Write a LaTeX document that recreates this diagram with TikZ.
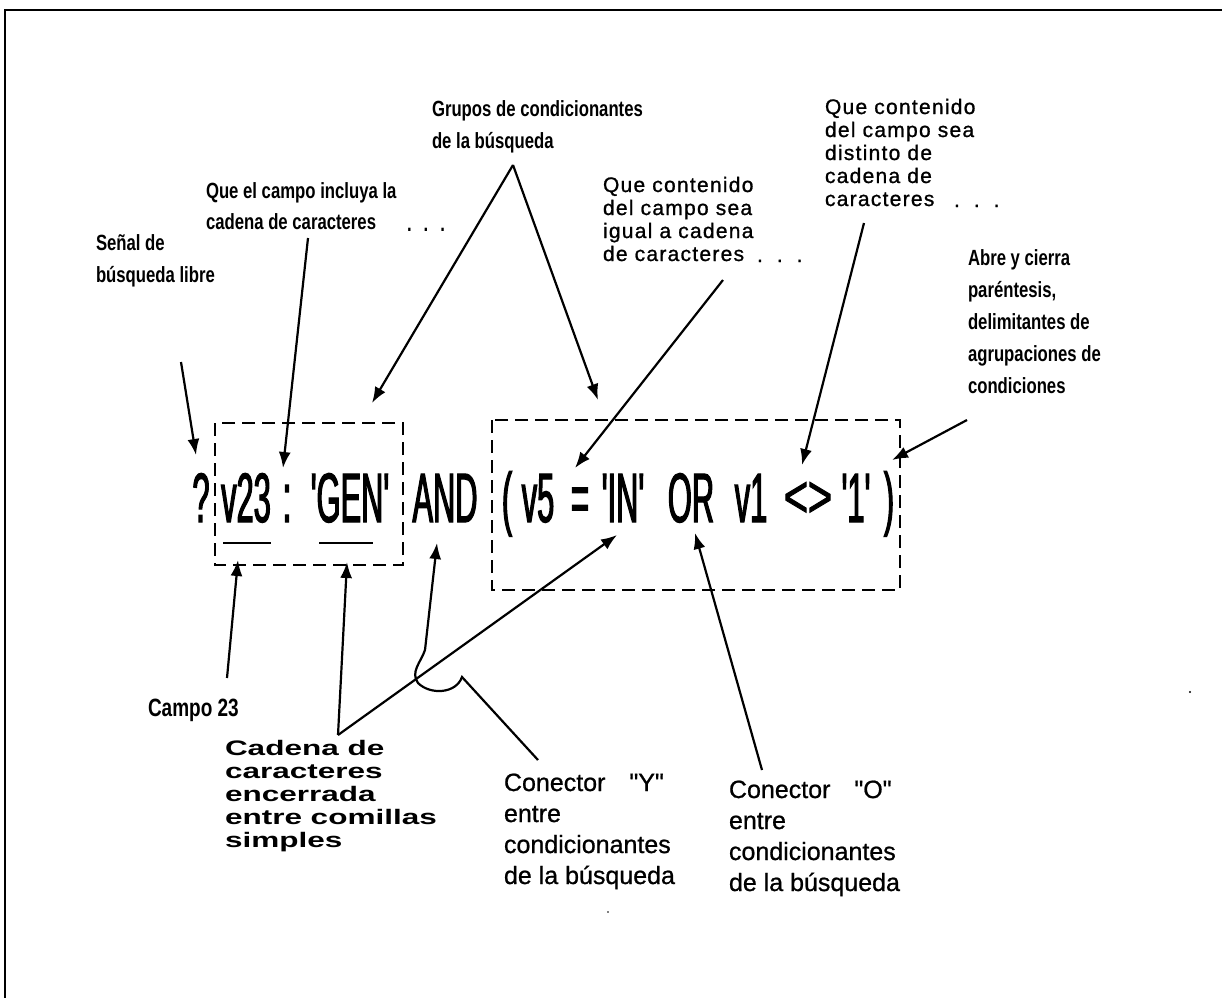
\documentclass[tikz,border=0pt]{standalone}
\usepackage{fontspec}
\setmainfont{Liberation Sans}[Ligatures=TeXOff,FakeBold=0.8]
\newfontfamily\formfont[FakeStretch=0.44,Ligatures=TeXOff,FakeBold=1.6]{Liberation Sans}
\newfontfamily\chevfont[FakeStretch=0.7,FakeBold=1.4]{Liberation Sans}
\newfontfamily\condfont[FakeStretch=0.76]{Liberation Sans}
\newfontfamily\widefont[LetterSpace=6,FakeBold=1]{Liberation Sans}
\newfontfamily\extfont[FakeStretch=1.5]{Liberation Sans}
\usetikzlibrary{arrows.meta}
\begin{document}
\begin{tikzpicture}[x=0.5pt,y=-0.5pt,
  lbl/.style={inner sep=0pt,outer sep=0pt,align=left,anchor=north west},
  cond/.style={lbl,font=\condfont\bfseries\fontsize{11pt}{16pt}\selectfont},
  wide/.style={lbl,font=\widefont\fontsize{10.5pt}{11.5pt}\selectfont},
  ext/.style={lbl,font=\extfont\bfseries\fontsize{10.5pt}{11.5pt}\selectfont},
  reg/.style={lbl,font=\fontsize{12.5pt}{15.5pt}\selectfont},
  tok/.style={inner sep=0pt,anchor=base,font=\formfont\fontsize{35pt}{40pt}\selectfont},
  chev/.style={inner sep=0pt,anchor=base,font=\chevfont\fontsize{30pt}{34pt}\selectfont},
  arr/.style={line width=1.1pt,-{Latex[length=8pt,width=6pt]}},
  ln/.style={line width=1.1pt},
  grp/.style={line width=1.1pt,dash pattern=on 6.5pt off 3.5pt},
]
\useasboundingbox (0,0) rectangle (1222,998);
% frame
\coordinate (fr0) at (5,10);
\coordinate (fr1) at (1222,10);
\coordinate (fr2) at (5,998);
\draw[line width=1.3pt] (fr1) -- (fr0) -- (fr2);

% formula
\node[tok] (q) at (201,522) {?};
\node[tok] (v23) at (246,522) {v23};
\node[tok] (colon) at (287,522) {:};
\node[tok] (gen) at (350,522) {'GEN'};
\node[tok] (and) at (445,522) {AND};
\node[tok] (lp) at (507,522) {(};
\node[tok] (v5) at (538,522) {v5};
\node[tok] (eq) at (580,522) {=};
\node[tok] (in) at (623,522) {'IN'};
\node[tok] (or) at (691,522) {OR};
\node[tok] (v1) at (751,522) {v1};
\node[chev] (lt) at (796,517) {<};
\node[chev] (gt) at (820,517) {>};
\node[tok] (one) at (856,522) {'1'};
\node[tok] (rp) at (889,522) {)};

% dashed groups
\coordinate (b1a) at (215,423);
\coordinate (b1b) at (403,565);
\draw[grp] (b1a) rectangle (b1b);
\coordinate (b2a) at (492,420);
\coordinate (b2b) at (900,590);
\draw[grp] (b2a) rectangle (b2b);

% underlines
\coordinate (u1a) at (223,543);
\coordinate (u1b) at (271,543);
\coordinate (u2a) at (319,543);
\coordinate (u2b) at (373,543);
\draw[line width=0.9pt] (u1a) -- (u1b);
\draw[line width=0.9pt] (u2a) -- (u2b);

% labels top
\node[cond] (grupos) at (432,94) {\rule{0pt}{11pt}Grupos de condicionantes\\de la búsqueda};
\node[cond,font=\condfont\bfseries\fontsize{11pt}{15.5pt}\selectfont] (incl) at (206,176) {\rule{0pt}{11pt}Que el campo incluya la\\cadena de caracteres};
\node[cond,anchor=base west] (incld) at (407,231) {.\hspace{6pt}.\hspace{6pt}.};
\node[cond] (senal) at (96,228) {\rule{0pt}{11pt}Señal de\\búsqueda libre};
\node[cond] (abre) at (968,243) {\rule{0pt}{11pt}Abre y cierra\\paréntesis,\\delimitantes de\\agrupaciones de\\condiciones};
\node[wide] (igual) at (603,171) {\rule{0pt}{10.5pt}Que contenido\\del campo sea\\igual a cadena\\de caracteres};
\node[wide,anchor=base west] (iguald) at (757,262) {.\hspace{7pt}.\hspace{7pt}.};
\node[wide] (dist) at (825,93) {\rule{0pt}{10.5pt}Que contenido\\del campo sea\\distinto de\\cadena de\\caracteres};
\node[wide,anchor=base west] (distd) at (954,207) {.\hspace{7pt}.\hspace{7pt}.};

% labels bottom
\node[cond,anchor=base west,font=\condfont\bfseries\fontsize{12.5pt}{14pt}\selectfont] (campo) at (148,716) {Campo 23};
\node[ext] (cadena) at (225,734) {\rule{0pt}{10.5pt}Cadena de\\caracteres\\encerrada\\entre comillas\\simples};
\node[reg] (cy) at (504,766) {\rule{0pt}{12.5pt}Conector\hspace{12pt}"Y"\\entre\\condicionantes\\de la búsqueda};
\node[reg] (co) at (729,773) {\rule{0pt}{12.5pt}Conector\hspace{12pt}"O"\\entre\\condicionantes\\de la búsqueda};

% connectors
\coordinate (senS) at (181,362);
\coordinate (senT) at (196,455);
\draw[arr] (senS) -- (senT);
\coordinate (inS) at (308,238);
\coordinate (inT) at (283,468);
\draw[arr] (inS) -- (inT);
\coordinate (grA) at (513,165);
\coordinate (grL) at (372,403);
\coordinate (grR) at (598,400);
\draw[arr] (grA) -- (grL);
\draw[arr] (grA) -- (grR);
\coordinate (igS) at (723,280);
\coordinate (igT) at (575,468);
\draw[arr] (igS) -- (igT);
\coordinate (diS) at (864,223);
\coordinate (diT) at (802,465);
\draw[arr] (diS) -- (diT);
\coordinate (abS) at (967,420);
\coordinate (abT) at (892,460);
\draw[arr] (abS) -- (abT);
\coordinate (caS) at (227,678);
\coordinate (caT) at (238,560);
\draw[arr] (caS) -- (caT);
\coordinate (cdV) at (338,735);
\coordinate (cdT1) at (347,562);
\coordinate (cdT2) at (617,535);
\draw[arr] (cdV) -- (cdT1);
\draw[arr] (cdV) -- (cdT2);
\coordinate (orS) at (762,770);
\coordinate (orT) at (695,533);
\draw[arr] (orS) -- (orT);
\coordinate (anS) at (538,760);
\coordinate (anH) at (462,677);
\coordinate (anC) at (425,650);
\coordinate (anT) at (437,543);
\draw[arr] (anS) -- (anH) .. controls (456,694) and (430,695) .. (418,683)
  .. controls (410,672) and (421,662) .. (anC) -- (anT);

% specks
\fill (1190,692) circle (1.2);
\fill (608,912) circle (0.9);
\end{tikzpicture}
\end{document}
